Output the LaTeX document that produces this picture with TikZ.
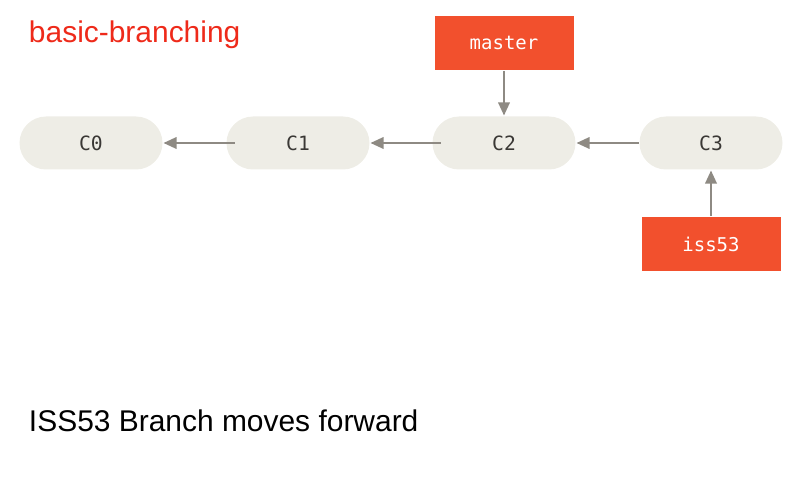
\documentclass[tikz,border=0pt]{standalone}
\usepackage{fontspec}
\setmainfont{Liberation Sans}
\setmonofont{DejaVu Sans Mono}
\usetikzlibrary{arrows.meta,shapes.misc}
\definecolor{commitfill}{HTML}{EEEDE6}
\definecolor{committext}{HTML}{3A3835}
\definecolor{branchfill}{HTML}{F2502D}
\definecolor{arrowgray}{HTML}{8E8A83}
\definecolor{titlered}{HTML}{EE2A1A}
\begin{document}
\begin{tikzpicture}[line width=1.4pt,
commit node/.style={rounded rectangle,fill=commitfill,minimum width=3.575cm,minimum height=1.325cm,inner sep=0pt,font=\ttfamily\fontsize{14}{16}\selectfont,text=committext},
branch node/.style={rectangle,fill=branchfill,minimum width=3.475cm,minimum height=1.35cm,inner sep=0pt,font=\ttfamily\fontsize{13.5}{16}\selectfont,text=white},
ptr/.style={draw=arrowgray,-{Triangle[length=0.33cm,width=0.29cm]}},
label text/.style={anchor=base west,inner sep=0pt,font=\fontsize{21.3}{25}\selectfont}]
\useasboundingbox (0,0) rectangle (20,12);
\node[label text,text=titlered] (title) at (0.7,10.925) {basic-branching};
\node[commit node] (c0) at (2.275,8.425) {C0};
\node[commit node] (c1) at (7.45,8.425) {C1};
\node[commit node] (c2) at (12.6,8.425) {C2};
\node[commit node] (c3) at (17.775,8.425) {C3};
\node[branch node] (master) at (12.6,10.925) {master};
\node[branch node] (iss53) at (17.775,5.9) {iss53};
\node[label text] (caption) at (0.7,1.21) {ISS53 Branch moves forward};
\draw[ptr,shorten <=-0.225cm] (c1.west) -- (c0.east);
\draw[ptr,shorten <=-0.225cm] (c2.west) -- (c1.east);
\draw[ptr] (c3.west) -- (c2.east);
\draw[ptr] (master.south) -- (c2.north);
\draw[ptr] (iss53.north) -- (c3.south);
\end{tikzpicture}
\end{document}
